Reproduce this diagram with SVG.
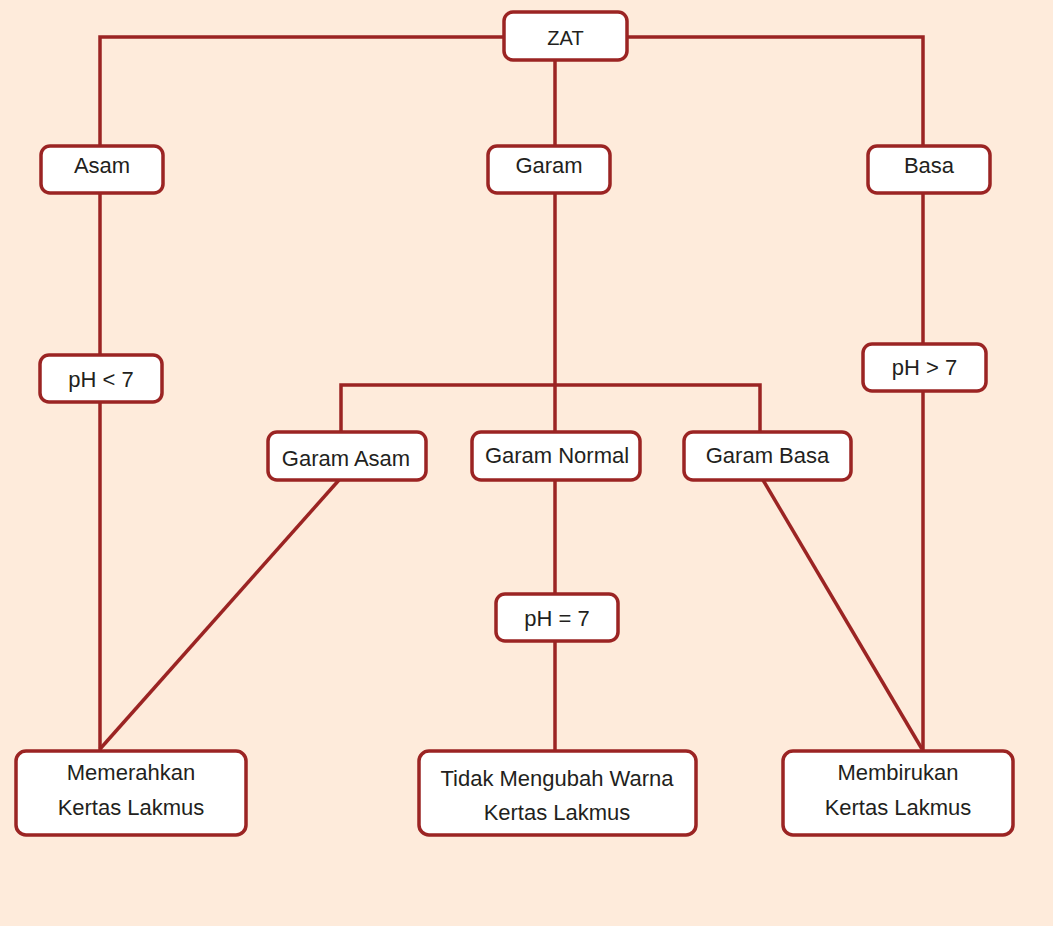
<svg xmlns="http://www.w3.org/2000/svg" width="1053" height="926" viewBox="0 0 1053 926">
<style>
.bg{fill:#FEEBDB}
.box{fill:#FFFFFF;stroke:#9B2423;stroke-width:3.5}
.ln{fill:none;stroke:#9B2423;stroke-width:3.5;stroke-linejoin:miter}
text{font-family:"Liberation Sans",Arial,sans-serif;font-size:22px;fill:#231F20;text-anchor:middle}
</style>
<rect class="bg" x="0" y="0" width="1053" height="926"/>
<g id="connectors">
<path class="ln" d="M504,37 H100 V146"/>
<path class="ln" d="M627,37 H923 V146"/>
<path class="ln" d="M555,60 V146"/>
<path class="ln" d="M555,193 V432"/>
<path class="ln" d="M341,432 V385 H760 V432"/>
<path class="ln" d="M100,193 V355"/>
<path class="ln" d="M100,402 V751"/>
<path class="ln" d="M923,193 V344"/>
<path class="ln" d="M923,391 V751"/>
<path class="ln" d="M339,480 L100,749"/>
<path class="ln" d="M763,480 L922,749"/>
<path class="ln" d="M555,480 V594"/>
<path class="ln" d="M555,641 V751"/>
</g>
<g id="zat"><rect class="box" x="504" y="12" width="123" height="48" rx="9"/><text x="565.5" y="45" style="font-size:20px">ZAT</text></g>
<g id="asam"><rect class="box" x="41" y="146" width="122" height="47" rx="9"/><text x="102" y="173">Asam</text></g>
<g id="garam"><rect class="box" x="488" y="146" width="122" height="47" rx="9"/><text x="549" y="173">Garam</text></g>
<g id="basa"><rect class="box" x="868" y="146" width="122" height="47" rx="9"/><text x="929" y="173">Basa</text></g>
<g id="ph-lt"><rect class="box" x="40" y="355" width="122" height="47" rx="9"/><text x="101" y="387">pH &lt; 7</text></g>
<g id="ph-gt"><rect class="box" x="863" y="344" width="123" height="47" rx="9"/><text x="924.5" y="375">pH &gt; 7</text></g>
<g id="garam-asam"><rect class="box" x="268" y="432" width="158" height="48" rx="9"/><text x="346" y="466">Garam Asam</text></g>
<g id="garam-normal"><rect class="box" x="472" y="432" width="168" height="48" rx="9"/><text x="557" y="463">Garam Normal</text></g>
<g id="garam-basa"><rect class="box" x="684" y="432" width="167" height="48" rx="9"/><text x="767.5" y="463">Garam Basa</text></g>
<g id="ph-eq"><rect class="box" x="496" y="594" width="122" height="47" rx="9"/><text x="557" y="626">pH = 7</text></g>
<g id="memerahkan"><rect class="box" x="16" y="751" width="230" height="84" rx="10"/><text x="131" y="780">Memerahkan</text><text x="131" y="815">Kertas Lakmus</text></g>
<g id="tidak"><rect class="box" x="419" y="751" width="277" height="84" rx="10"/><text x="557" y="786">Tidak Mengubah Warna</text><text x="557" y="820">Kertas Lakmus</text></g>
<g id="membirukan"><rect class="box" x="783" y="751" width="230" height="84" rx="10"/><text x="898" y="780">Membirukan</text><text x="898" y="815">Kertas Lakmus</text></g>
</svg>
